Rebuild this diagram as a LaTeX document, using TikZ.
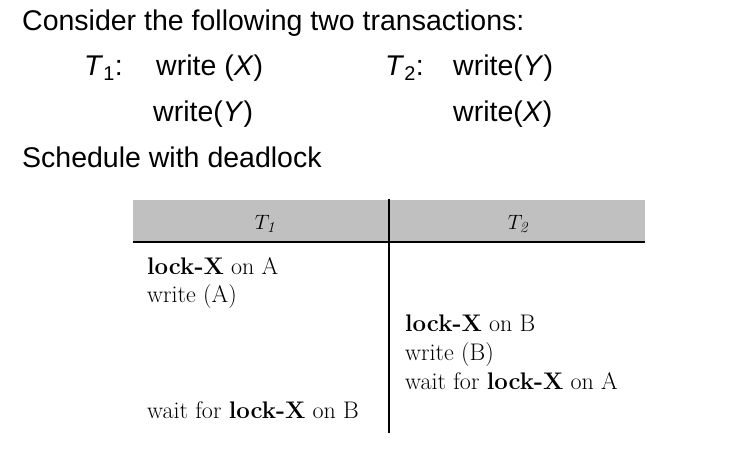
\documentclass[tikz,border=0pt]{standalone}
\usepackage{fontspec}
\setsansfont{Liberation Sans}
\usepackage{tikz}
\definecolor{headgray}{RGB}{192,192,192}
\tikzset{
  intro/.style={anchor=base west, inner sep=0pt, font=\sffamily\fontsize{28.5}{30}\selectfont},
  cell/.style={anchor=base west, inner sep=0pt, font=\fontsize{24}{26}\selectfont},
  head/.style={anchor=base, inner sep=0pt, font=\fontsize{22}{24}\selectfont}
}
\begin{document}
\begin{tikzpicture}[x=1pt, y=-1pt]
  \useasboundingbox (0,0) rectangle (739,459);
  \node (intro) at (22,30) [intro] {Consider the following two transactions:};
  \node (t1) at (84,75.5) [intro] {\textit{T}\textsubscript{1}:};
  \node (t1a) at (156,75.5) [intro] {write (\textit{X})};
  \node (t1b) at (153,121.5) [intro] {write(\textit{Y})};
  \node (t2) at (385,75.5) [intro] {\textit{T}\textsubscript{2}:};
  \node (t2a) at (453,75.5) [intro] {write(\textit{Y})};
  \node (t2b) at (453,121.5) [intro] {write(\textit{X})};
  \node (sched) at (22,167.5) [intro] {Schedule with deadlock};
  \fill[headgray] (133,200) rectangle (645,242);
  \coordinate (topmid) at (389,199);
  \coordinate (botmid) at (389,433);
  \draw[line width=2.5pt] (133,242) -- (645,242);
  \draw[line width=2pt] (topmid) -- (botmid);
  \node (h1) at (265,229) [head] {$T_{\mathit{1}}$};
  \node (h2) at (518,229) [head] {$T_{\mathit{2}}$};
  \node (lka) at (147,274) [cell] {\textbf{lock-X} on A};
  \node (wra) at (147,302.8) [cell] {write (A)};
  \node (lkb) at (405,331.6) [cell] {\textbf{lock-X} on B};
  \node (wrb) at (405,360.4) [cell] {write (B)};
  \node (wta) at (405,389.2) [cell] {wait for \textbf{lock-X} on A};
  \node (wtb) at (147,418) [cell] {wait for \textbf{lock-X} on B};
\end{tikzpicture}
\end{document}
